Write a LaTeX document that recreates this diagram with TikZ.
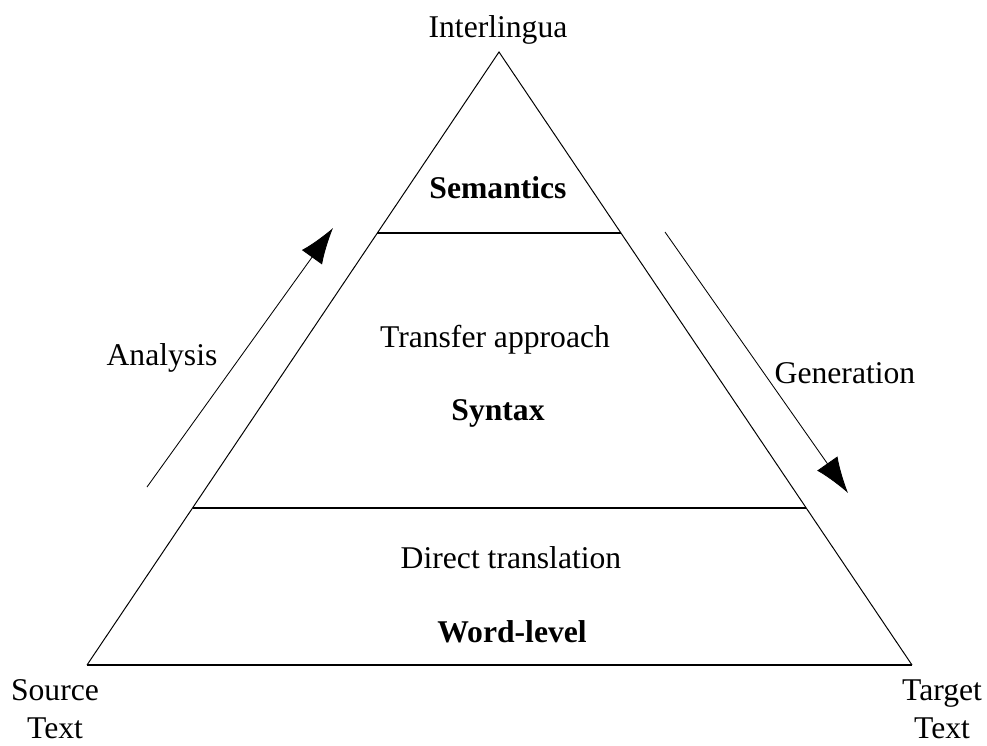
\documentclass[tikz,border=0pt]{standalone}
\usepackage{fontspec}
\setmainfont{Liberation Serif}
\usetikzlibrary{arrows.meta}
\begin{document}
\begin{tikzpicture}[x=0.025cm,y=-0.025cm]
\tikzstyle{txt}=[font=\fontsize{22.5}{27}\selectfont, inner sep=0pt, anchor=base, align=center]
\tikzstyle{lvl}=[txt, font=\fontsize{22.5}{27}\selectfont\bfseries]
\tikzstyle{side}=[line width=0.7pt]
\tikzstyle{level}=[line width=0.9pt]
\tikzstyle{connect}=[-{Latex[length=0.9cm,width=0.62cm]}, line width=0.6pt]

	\useasboundingbox (0,0) rectangle (987,745);

	% pyramid
	\coordinate (apex) at (499,52);
	\coordinate (srcc) at (87,665);
	\coordinate (tgtc) at (912,665);
	\coordinate (semL) at (377,233);
	\coordinate (semR) at (621,233);
	\coordinate (synL) at (193,508);
	\coordinate (synR) at (806,508);

	\draw[side] (srcc) -- (apex) -- (tgtc);
	\draw[level] (srcc) -- (tgtc);
	\draw[level] (semL) -- (semR);
	\draw[level] (synL) -- (synR);

	\node[txt] (inter) at (498,37) {Interlingua};
	\node[lvl] (sem) at (498,198) {Semantics};
	\node[txt] (trans) at (495,347) {Transfer approach};
	\node[lvl] (syn) at (498,420) {Syntax};
	\node[txt] (direct) at (511,568) {Direct translation};
	\node[lvl] (word) at (512,642) {Word-level};
	\node[txt] (src) at (55,738) {Source\\Text};
	\node[txt] (tgt) at (942,738) {Target\\Text};

	% arrows
	\coordinate (anaS) at (147,487);
	\coordinate (anaE) at (333,228);
	\coordinate (genS) at (665,232);
	\coordinate (genE) at (848,493);
	\draw[connect] (anaS) -- (anaE);
	\draw[connect] (genS) -- (genE);
	\node[txt] (ana) at (162,365) {Analysis};
	\node[txt] (gen) at (845,383) {Generation};

\end{tikzpicture}
\end{document}
